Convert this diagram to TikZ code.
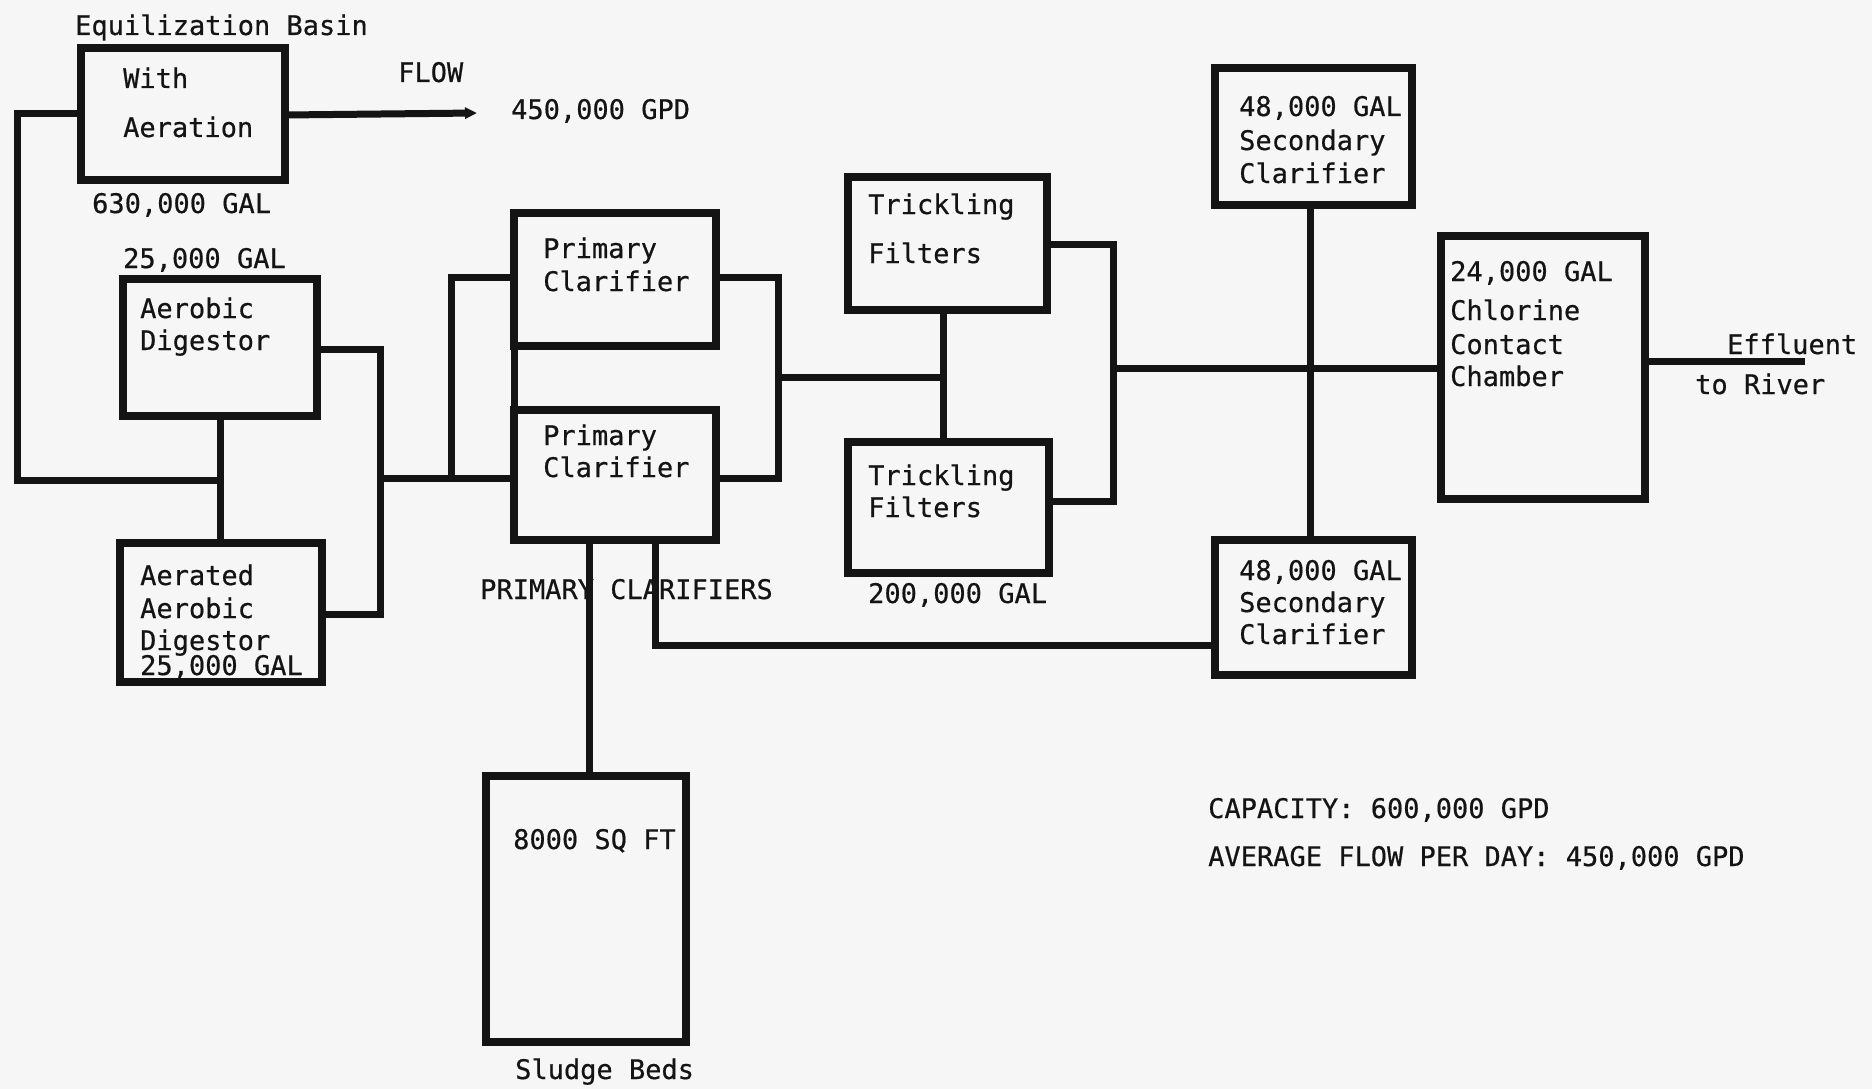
\documentclass[tikz,border=0pt]{standalone}
\usepackage{fontspec}
\setmainfont{DejaVu Sans Mono}[FakeBold=0.5]
\usetikzlibrary{arrows.meta}
\definecolor{paper}{rgb}{0.965,0.965,0.965}
\definecolor{ink}{rgb}{0.08,0.08,0.08}
\tikzset{
  tank/.style={draw=ink, line width=8.5pt, line join=miter, inner sep=0pt, outer sep=0pt},
  pipe/.style={draw=ink, line width=7pt, line join=miter},
  lbl/.style={anchor=base west, inner sep=0pt, text=ink, font=\fontsize{27}{32}\selectfont}
}
\begin{document}
\begin{tikzpicture}[x=1pt, y=-1pt]
\fill[paper] (0,0) rectangle (1872,1089);
\useasboundingbox (0,0) rectangle (1872,1089);

% tanks
\node[tank, minimum width=204pt, minimum height=132pt] (eq)  at (183,114) {};
\node[tank, minimum width=194pt, minimum height=137pt] (ad)  at (220,347.5) {};
\node[tank, minimum width=202pt, minimum height=139pt] (aad) at (221,612.5) {};
\node[tank, minimum width=202pt, minimum height=133pt] (pc1) at (615,279.5) {};
\node[tank, minimum width=202pt, minimum height=130pt] (pc2) at (615,475) {};
\node[tank, minimum width=199pt, minimum height=133pt] (tf1) at (947.5,243.5) {};
\node[tank, minimum width=201pt, minimum height=131pt] (tf2) at (948.5,507.5) {};
\node[tank, minimum width=197pt, minimum height=137pt] (sc1) at (1313.5,136.5) {};
\node[tank, minimum width=197pt, minimum height=135pt] (sc2) at (1313.5,607.5) {};
\node[tank, minimum width=204pt, minimum height=263pt] (ccc) at (1543,367.5) {};
\node[tank, minimum width=200pt, minimum height=266pt] (sb)  at (586,909) {};

% junction coordinates
\coordinate (fb1) at (17,114);
\coordinate (fb2) at (17,480);
\coordinate (fbj) at (220,480);
\coordinate (flowend) at (477,113);
\coordinate (dr1) at (380,349);
\coordinate (dr2) at (380,614);
\coordinate (drj) at (380,478);
\coordinate (pl1) at (451,277);
\coordinate (pl2) at (451,478);
\coordinate (pr1) at (778,277);
\coordinate (pr2) at (778,478);
\coordinate (prj) at (778,377);
\coordinate (tfj) at (943,377);
\coordinate (tr1) at (1113,244);
\coordinate (tr2) at (1113,501);
\coordinate (trj) at (1113,368);
\coordinate (sc1b) at (1310,205);
\coordinate (sc2t) at (1310,540);
\coordinate (efl) at (1805,361);
\coordinate (sl1) at (589,540);
\coordinate (sr1) at (655,540);
\coordinate (sr2) at (655,645);

% connectors
\draw[pipe] (eq.west) -- (fb1) -- (fb2) -- (fbj);
\draw[pipe] (ad.south -| fbj) -- (aad.north -| fbj);
\draw[pipe, -{Triangle[length=12pt,width=11pt]}] (eq.east |- 0,115) -- (flowend);
\draw[pipe] (ad.east |- dr1) -- (dr1) -- (dr2) -- (aad.east |- dr2);
\draw[pipe] (drj) -- (pc2.west |- drj);
\draw[pipe] (pl2) -- (pl1) -- (pc1.west |- pl1);
\draw[pipe] (pc1.south west) -- (pc2.north west);
\draw[pipe] (pc1.east |- pr1) -- (pr1) -- (pr2) -- (pc2.east |- pr2);
\draw[pipe] (prj) -- (tfj);
\draw[pipe] (tf1.south -| tfj) -- (tf2.north -| tfj);
\draw[pipe] (tf1.east |- tr1) -- (tr1) -- (tr2) -- (tf2.east |- tr2);
\draw[pipe] (trj) -- (ccc.west |- trj);
\draw[pipe] (sc1b) -- (sc2t);
\draw[pipe] (ccc.east |- efl) -- (efl);
\draw[pipe] (sl1) -- (sb.north -| sl1);
\draw[pipe] (sr1) -- (sr2) -- (sc2.west |- sr2);

% labels
\node[lbl] (t1) at (75,35) {Equilization Basin};
\node[lbl] (t2) at (123,88) {With};
\node[lbl] (t3) at (123,137) {Aeration};
\node[lbl] (t4) at (398,82) {FLOW};
\node[lbl] (t5) at (511,119) {450,000 GPD};
\node[lbl] (t6) at (92,213) {630,000 GAL};
\node[lbl] (t7) at (123,268) {25,000 GAL};
\node[lbl] (t8) at (140,318) {Aerobic};
\node[lbl] (t9) at (140,350) {Digestor};
\node[lbl] (t10) at (140,585) {Aerated};
\node[lbl] (t11) at (140,618) {Aerobic};
\node[lbl] (t12) at (140,650) {Digestor};
\node[lbl] (t13) at (140,675) {25,000 GAL};
\node[lbl] (t14) at (543,258) {Primary};
\node[lbl] (t15) at (543,291) {Clarifier};
\node[lbl] (t16) at (543,445) {Primary};
\node[lbl] (t17) at (543,477) {Clarifier};
\node[lbl] (t18) at (480,599) {PRIMARY CLARIFIERS};
\node[lbl] (t19) at (868,214) {Trickling};
\node[lbl] (t20) at (868,263) {Filters};
\node[lbl] (t21) at (868,485) {Trickling};
\node[lbl] (t22) at (868,517) {Filters};
\node[lbl] (t23) at (868,603) {200,000 GAL};
\node[lbl] (t24) at (1239,116) {48,000 GAL};
\node[lbl] (t25) at (1239,150) {Secondary};
\node[lbl] (t26) at (1239,183) {Clarifier};
\node[lbl] (t27) at (1239,580) {48,000 GAL};
\node[lbl] (t28) at (1239,612) {Secondary};
\node[lbl] (t29) at (1239,644) {Clarifier};
\node[lbl] (t30) at (1450,281) {24,000 GAL};
\node[lbl] (t31) at (1450,320) {Chlorine};
\node[lbl] (t32) at (1450,354) {Contact};
\node[lbl] (t33) at (1450,386) {Chamber};
\node[lbl] (t34) at (1727,354) {Effluent};
\node[lbl] (t35) at (1695,394) {to River};
\node[lbl] (t36) at (513,849) {8000 SQ FT};
\node[lbl] (t37) at (515,1079) {Sludge Beds};
\node[lbl] (t38) at (1208,818) {CAPACITY: 600,000 GPD};
\node[lbl] (t39) at (1208,866) {AVERAGE FLOW PER DAY: 450,000 GPD};
\end{tikzpicture}
\end{document}
